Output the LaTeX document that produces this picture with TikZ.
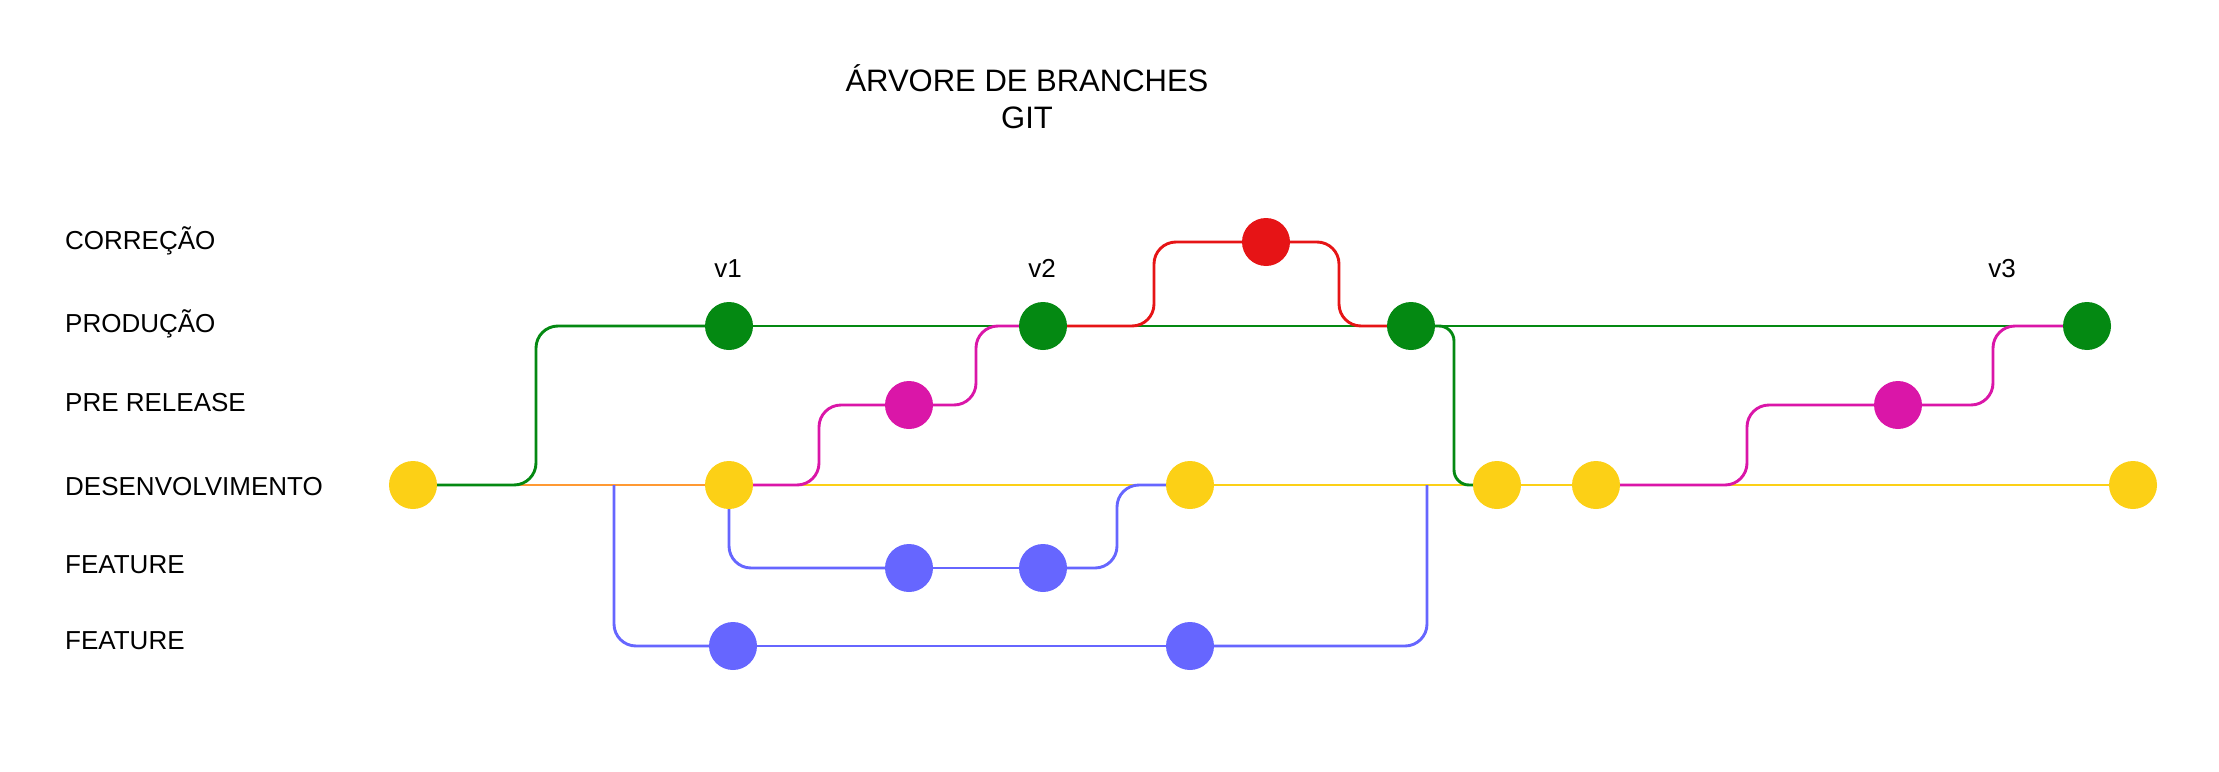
\documentclass[tikz,border=0pt]{standalone}
\usepackage{fontspec}
\setmainfont{Liberation Sans}
\definecolor{cgreen}{RGB}{4,137,18}
\definecolor{cyellow}{RGB}{252,208,22}
\definecolor{cred}{RGB}{230,20,22}
\definecolor{cmag}{RGB}{218,22,168}
\definecolor{cblue}{RGB}{102,102,255}
\definecolor{corange}{RGB}{255,153,51}
\begin{document}
\begin{tikzpicture}[x=1pt,y=-1pt,
  commit/.style={circle,fill=#1,draw=none,minimum size=48pt,inner sep=0pt},
  branch/.style={draw=#1,line width=2.9pt,rounded corners=22pt},
  lbl/.style={font=\fontsize{26}{30}\selectfont,anchor=base west,inner sep=0pt},
  ver/.style={font=\fontsize{26}{30}\selectfont,anchor=base,inner sep=0pt},
  ttl/.style={font=\fontsize{31}{37}\selectfont,anchor=base,inner sep=0pt}]
\useasboundingbox (0,0) rectangle (2219,771);

% title
\node[ttl] (t1) at (1027,91) {ÁRVORE DE BRANCHES};
\node[ttl] (t2) at (1027,128) {GIT};

% lane labels
\node[lbl] (lcor) at (65,249) {CORREÇÃO};
\node[lbl] (lpro) at (65,332) {PRODUÇÃO};
\node[lbl] (lpre) at (65,411) {PRE RELEASE};
\node[lbl] (ldev) at (65,495) {DESENVOLVIMENTO};
\node[lbl] (lfa) at (65,573) {FEATURE};
\node[lbl] (lfb) at (65,649) {FEATURE};

% commits
\node[commit=cyellow] (d0) at (413,485) {};
\node[commit=cgreen] (p1) at (729,326) {};
\node[commit=cyellow] (d1) at (729,485) {};
\node[commit=cmag] (r1) at (909,405) {};
\node[commit=cgreen] (p2) at (1043,326) {};
\node[commit=cblue] (f1a) at (909,568) {};
\node[commit=cblue] (f1b) at (1043,568) {};
\node[commit=cyellow] (d2) at (1190,485) {};
\node[commit=cred] (c1) at (1266,242) {};
\node[commit=cgreen] (p3) at (1411,326) {};
\node[commit=cblue] (f2a) at (733,646) {};
\node[commit=cblue] (f2b) at (1190,646) {};
\node[commit=cyellow] (d3) at (1497,485) {};
\node[commit=cyellow] (d4) at (1596,485) {};
\node[commit=cmag] (r2) at (1898,405) {};
\node[commit=cgreen] (p4) at (2087,326) {};
\node[commit=cyellow] (d5) at (2133,485) {};

% version labels
\node[ver] (v1) at (728,277) {v1};
\node[ver] (v2) at (1042,277) {v2};
\node[ver] (v3) at (2002,277) {v3};

% free ends of the second feature branch
\coordinate (fs) at (614,485);
\coordinate (fe) at (1427,485);

% development line
\draw[branch=corange] (d0) -- (d1);
\draw[branch=cyellow] (d1) -- (d2);
\draw[branch=cyellow] (d2) -- (d3);
\draw[branch=cyellow] (d3) -- (d4);
\draw[branch=cyellow] (d4) -- (d5);

% production line
\draw[branch=cgreen] (d0) -- (536,485) -- (536,326) -- (p1);
\draw[branch=cgreen] (p1) -- (p2);
\draw[branch=cgreen] (p2) -- (p3);
\draw[branch=cgreen] (p3) -- (p4);

% hotfix
\draw[branch=cred] (p2) -- (1154,326) -- (1154,242) -- (c1);
\draw[branch=cred] (c1) -- (1339,242) -- (1339,326) -- (p3);

% merge production back into development
\draw[branch=cgreen,rounded corners=15pt] (p3) -- (1454,326) -- (1454,485) -- (d3);

% pre releases
\draw[branch=cmag] (d1) -- (819,485) -- (819,405) -- (r1);
\draw[branch=cmag] (r1) -- (976,405) -- (976,326) -- (p2);
\draw[branch=cmag] (d4) -- (1747,485) -- (1747,405) -- (r2);
\draw[branch=cmag] (r2) -- (1993,405) -- (1993,326) -- (p4);

% features
\draw[branch=cblue] (d1) -- (729,568) -- (f1a);
\draw[branch=cblue] (f1a) -- (f1b);
\draw[branch=cblue] (f1b) -- (1117,568) -- (1117,485) -- (d2);
\draw[branch=cblue] (fs) -- (614,646) -- (f2a);
\draw[branch=cblue] (f2a) -- (f2b);
\draw[branch=cblue] (f2b) -- (1427,646) -- (fe);
\end{tikzpicture}
\end{document}
